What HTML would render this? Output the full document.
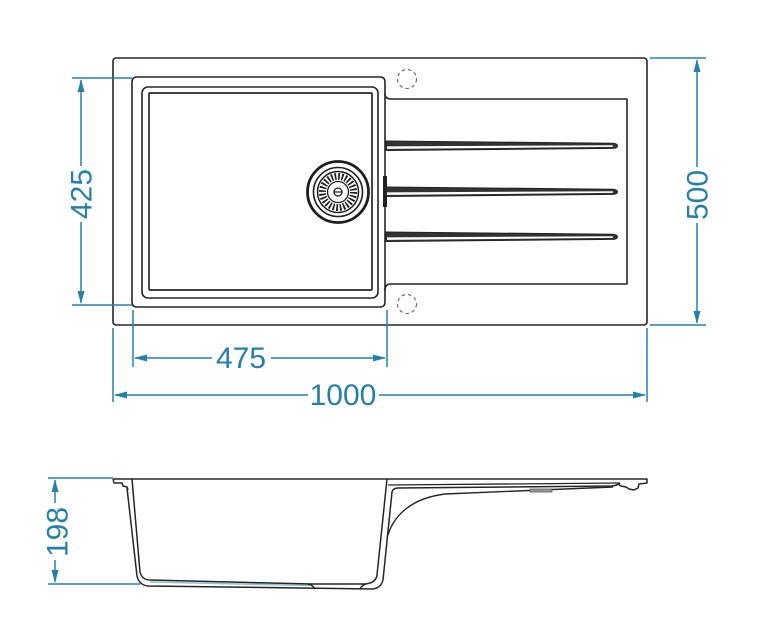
<!DOCTYPE html>
<html><head><meta charset="utf-8"><style>
html,body{margin:0;padding:0;background:#fff;}
svg{display:block;}
</style></head><body>
<svg width="768" height="630" viewBox="0 0 768 630" xmlns="http://www.w3.org/2000/svg">
<rect width="768" height="630" fill="#fff"/>
<g fill="none" stroke="#262626" stroke-width="1.6" stroke-linejoin="round">
  <!-- outer top rect -->
  <rect x="113" y="58" width="534" height="267" rx="3"/>
  <!-- bowl + drainer outline -->
  <path d="M137,77 L380,77 Q385,77 385,82 L385,94 Q385,99 391,99 L627,99 L627,284 L391,284 Q385,284 385,290 L385,302 Q385,307 380,307 L137,307 Q132,307 132,302 L132,82 Q132,77 137,77 Z"/>
  <line x1="385" y1="93" x2="385" y2="291"/>
  <rect x="142" y="87" width="236" height="211" rx="6"/>
  <rect x="149" y="93" width="223" height="197" rx="1" stroke-width="1.7"/>
  <!-- dashed holes -->
  <circle cx="407" cy="79" r="9.5" stroke="#666" stroke-width="1.1" stroke-dasharray="3.5,3"/>
  <circle cx="407" cy="304" r="9.5" stroke="#666" stroke-width="1.1" stroke-dasharray="3.5,3"/>
</g>
<!-- overflow bar -->
<rect x="383" y="176" width="4" height="31" fill="#222"/>
<!-- ribs -->
<g fill="#333" stroke="#222" stroke-width="1">
  <path d="M386,141 L613,143.2 Q617.5,143.5 617.5,145.8 Q617.5,148.2 613,148.4 L386,150.5 Z"/>
  <path d="M386,187 L613,189.2 Q617.5,189.5 617.5,191.8 Q617.5,194.2 613,194.4 L386,196.5 Z"/>
  <path d="M386,232 L613,234.2 Q617.5,234.5 617.5,236.8 Q617.5,239.2 613,239.4 L386,241.5 Z"/>
</g>
<g fill="#fff">
  <path d="M387,146.4 L612,145.3 Q614.5,145.8 612,146.9 L387,148.9 Z"/>
  <path d="M387,192.4 L612,191.3 Q614.5,191.8 612,192.9 L387,194.9 Z"/>
  <path d="M387,237.4 L612,236.3 Q614.5,236.8 612,237.9 L387,239.9 Z"/>
</g>
<!-- drain -->
<g fill="none" stroke="#1e1e1e">
  <circle cx="338" cy="192" r="30.5" stroke-width="2.8" fill="#fff"/>
  <circle cx="338" cy="192" r="24.5" stroke-width="1.6"/>
  <circle cx="338" cy="192" r="20.5" stroke-width="1.5"/>
  <circle cx="338" cy="192" r="15.5" stroke-width="7" stroke-dasharray="1.7,1.78"/>
  <circle cx="338" cy="192" r="10.5" stroke-width="1.3"/>
  <circle cx="338" cy="192" r="4" stroke-width="1.3"/>
  <line x1="334.5" y1="192" x2="341.5" y2="192" stroke-width="1.2"/>
</g>

<!-- side profile -->
<path d="M150,582 L310,585.5" stroke="#8fc3d6" stroke-width="1.6" fill="none"/>
<g fill="none" stroke="#262626" stroke-width="1.5" stroke-linejoin="round">
  <path d="M113,479 L647,479 L647,483 L639,484 L638,488 L634,490 L629,489 L626,487 L621,486 L618,484"/>
  <path d="M113,479 L114,483 L122,483 L123,486 L127,487 L128,490"/>
  <path d="M127,488 L137,576 Q139,585 148,586 L373,589 Q381,588 383,580 L392,492 Q393,488 398,488 L612,486 Q617,485.5 620,483"/>
  <path d="M132,479 L140,572 Q142,580 150,580 L312,584 L365,584 Q376,583 377,575 L387,479"/>
  <path d="M308,584 Q313,585 315,589"/>
  <path d="M360,589 Q362,585 366,584"/>
  <path d="M388,485 L620,483" stroke-width="1.3"/>
  <path d="M613,487 L445,494 C412,498 394,515 388,535" stroke-width="1.4"/>
</g>
<rect x="530" y="489" width="22" height="3" fill="#999" stroke="#555" stroke-width="0.8"/>

<!-- dimensions -->
<g stroke="#2580a8" stroke-width="1.5" fill="none">
  <!-- 425 -->
  <line x1="72" y1="78" x2="132" y2="78"/>
  <line x1="72" y1="305" x2="132" y2="305"/>
  <line x1="81" y1="80" x2="81" y2="166"/>
  <line x1="81" y1="222" x2="81" y2="303"/>
  <!-- 500 -->
  <line x1="650" y1="58" x2="706" y2="58"/>
  <line x1="650" y1="325" x2="706" y2="325"/>
  <line x1="697" y1="60" x2="697" y2="167"/>
  <line x1="697" y1="223" x2="697" y2="323"/>
  <!-- 475 -->
  <line x1="133" y1="310" x2="133" y2="367"/>
  <line x1="387" y1="310" x2="387" y2="367"/>
  <line x1="135" y1="358" x2="212" y2="358"/>
  <line x1="271" y1="358" x2="385" y2="358"/>
  <!-- 1000 -->
  <line x1="113" y1="328" x2="113" y2="402"/>
  <line x1="647" y1="328" x2="647" y2="402"/>
  <line x1="115" y1="395" x2="308" y2="395"/>
  <line x1="379" y1="395" x2="645" y2="395"/>
  <!-- 198 -->
  <line x1="48" y1="478" x2="113" y2="478"/>
  <line x1="48" y1="584" x2="140" y2="584"/>
  <line x1="55" y1="480" x2="55" y2="503"/>
  <line x1="55" y1="560" x2="55" y2="582"/>
</g>
<g fill="#2580a8">
  <polygon points="81,79 77.5,92 84.5,92"/>
  <polygon points="81,304 77.5,291 84.5,291"/>
  <polygon points="697,59 693.5,72 700.5,72"/>
  <polygon points="697,324 693.5,311 700.5,311"/>
  <polygon points="134,358 147,354.5 147,361.5"/>
  <polygon points="386,358 373,354.5 373,361.5"/>
  <polygon points="114,395 127,391.5 127,398.5"/>
  <polygon points="646,395 633,391.5 633,398.5"/>
  <polygon points="55,479 51.5,492 58.5,492"/>
  <polygon points="55,583 51.5,570 58.5,570"/>
</g>
<g fill="#2580a8" font-family="'Liberation Sans', Arial, sans-serif" font-size="30" text-anchor="middle">
  <text x="241" y="368">475</text>
  <text x="343" y="405">1000</text>
  <text transform="translate(81,194) rotate(-90)" x="0" y="10.7">425</text>
  <text transform="translate(697,195) rotate(-90)" x="0" y="10.7">500</text>
  <text transform="translate(57,532) rotate(-90)" x="0" y="10.7">198</text>
</g>
</svg>
</body></html>
